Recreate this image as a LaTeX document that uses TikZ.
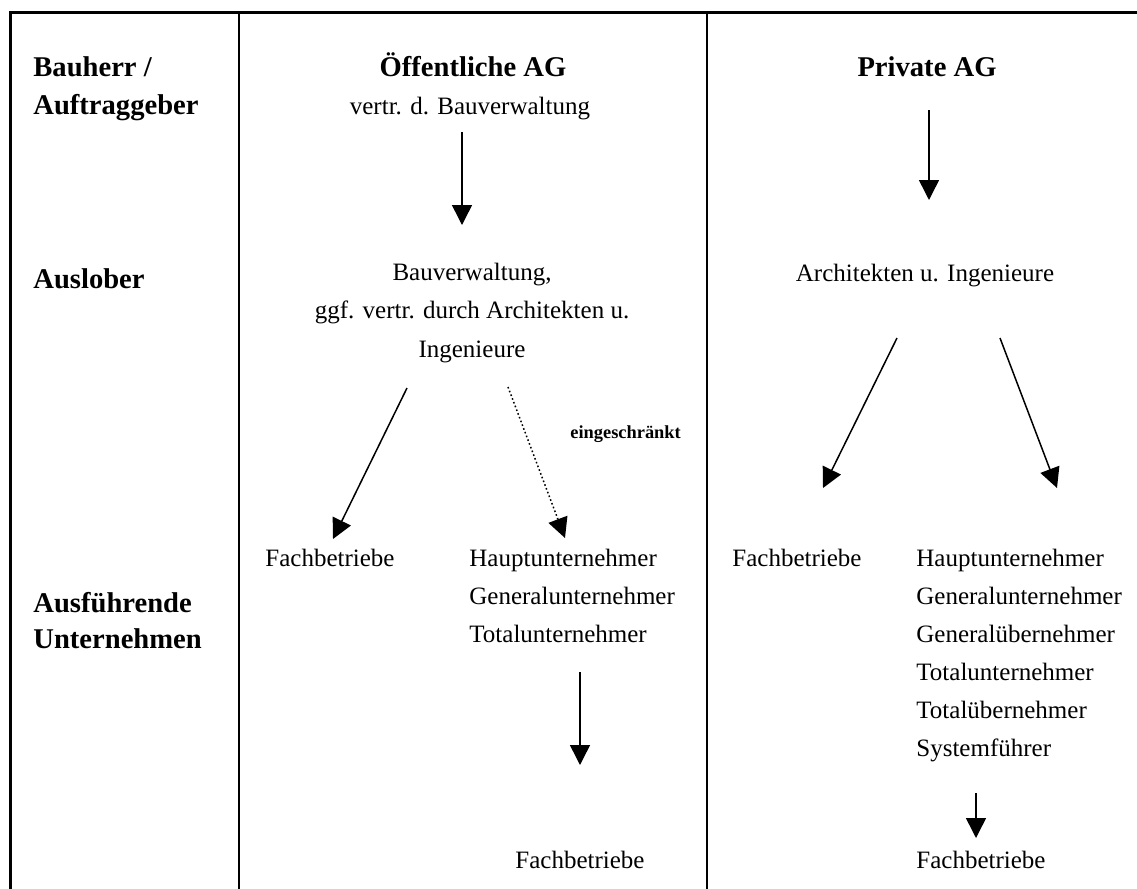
\documentclass[tikz,border=0pt]{standalone}
\usepackage{fontspec}
\setmainfont{Liberation Serif}
\usetikzlibrary{arrows.meta}
\begin{document}
\begin{tikzpicture}[x=0.5pt,y=-0.5pt,
  txt/.style={anchor=base,inner sep=0pt,font=\fontsize{12.5}{15}\selectfont},
  txtl/.style={txt,anchor=base west},
  hd/.style={anchor=base west,inner sep=0pt,font=\fontsize{14.3}{17}\selectfont\bfseries},
  hdc/.style={hd,anchor=base},
  small/.style={anchor=base west,inner sep=0pt,font=\fontsize{9.2}{11}\selectfont\bfseries},
  outer/.style={line width=1.5pt},
  divider/.style={line width=1pt},
  arr/.style={line width=0.75pt,-{Triangle[length=10pt,width=10pt]}},
  dotarr/.style={arr,dash pattern=on 0.8pt off 1.2pt}
]
\useasboundingbox (0,0) rectangle (1137,889);
% frame
\draw[outer] (10,889) -- (10,12) -- (1137,12);
\draw[divider] (239,12) -- (239,889);
\draw[divider] (707,12) -- (707,889);
% left headers
\node[hd] (bh) at (33,76) {Bauherr /};
\node[hd] (ag) at (33,114) {Auftraggeber};
\node[hd] (al) at (33,288) {Auslober};
\node[hd] (af) at (33,612) {Ausführende};
\node[hd] (un) at (33,648) {Unternehmen};
% middle column
\node[hdc] (oag) at (473,76) {Öffentliche AG};
\node[txt] (vbv) at (470,114) {vertr. d. Bauverwaltung};
\node[txt] (bv1) at (472,280) {Bauverwaltung,};
\node[txt] (bv2) at (472,318) {ggf. vertr. durch Architekten u.};
\node[txt] (bv3) at (472,357) {Ingenieure};
\node[small] (ein) at (570,438) {eingeschränkt};
\node[txtl] (fb1) at (265,566) {Fachbetriebe};
\node[txtl] (hu1) at (469,566) {Hauptunternehmer};
\node[txtl] (gu1) at (469,604) {Generalunternehmer};
\node[txtl] (tu1) at (469,642) {Totalunternehmer};
\node[txt] (fb2) at (580,868) {Fachbetriebe};
% right column
\node[hdc] (pag) at (927,76) {Private AG};
\node[txt] (ai) at (925,281) {Architekten u. Ingenieure};
\node[txtl] (fb3) at (732,566) {Fachbetriebe};
\node[txtl] (hu2) at (916,566) {Hauptunternehmer};
\node[txtl] (gu2) at (916,604) {Generalunternehmer};
\node[txtl] (gue2) at (916,642) {Generalübernehmer};
\node[txtl] (tu2) at (916,680) {Totalunternehmer};
\node[txtl] (tue2) at (916,718) {Totalübernehmer};
\node[txtl] (sf2) at (916,756) {Systemführer};
\node[txtl] (fb4) at (916,868) {Fachbetriebe};
% arrow ends
\coordinate (a1s) at (462,132); \coordinate (a1e) at (462,225);
\coordinate (a2s) at (407,388); \coordinate (a2e) at (333,539);
\coordinate (a3s) at (508,387); \coordinate (a3e) at (565,538);
\coordinate (a4s) at (580,672); \coordinate (a4e) at (580,765);
\coordinate (b1s) at (929,110); \coordinate (b1e) at (929,200);
\coordinate (b2s) at (897,338); \coordinate (b2e) at (823,488);
\coordinate (b3s) at (1000,338); \coordinate (b3e) at (1057,488);
\coordinate (b4s) at (976,793); \coordinate (b4e) at (976,838);
% arrows
\draw[arr] (a1s) -- (a1e);
\draw[arr] (a2s) -- (a2e);
\draw[dotarr] (a3s) -- (a3e);
\draw[arr] (a4s) -- (a4e);
\draw[arr] (b1s) -- (b1e);
\draw[arr] (b2s) -- (b2e);
\draw[arr] (b3s) -- (b3e);
\draw[arr] (b4s) -- (b4e);
\end{tikzpicture}
\end{document}
